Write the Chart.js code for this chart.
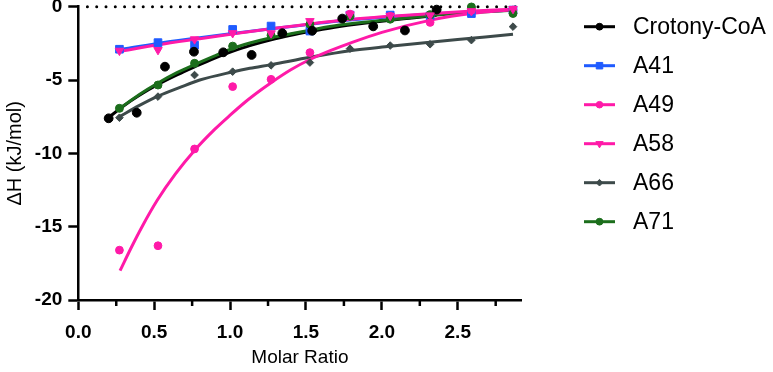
<!DOCTYPE html>
<html><head><meta charset="utf-8">
<script src="https://cdn.jsdelivr.net/npm/chart.js@4.4.1/dist/chart.umd.min.js"></script>
<style>html,body{margin:0;padding:0;background:#fff;overflow:hidden}#wrap{width:773px;height:372px;position:relative}</style>
</head><body><div id="wrap"><canvas id="c"></canvas></div>
<script>
// ---- data ----
const seriesNames = ['Crotony-CoA', 'A41', 'A49', 'A58', 'A66', 'A71'];
const xTickLabels = ['0.0', '0.5', '1.0', '1.5', '2.0', '2.5'];
const yTickLabels = ['-20', '-15', '-10', '-5', '0'];
const xMinorTicks = [0.25, 0.75, 1.25, 1.75, 2.25, 2.75];

// measured points
const xCrot = [0.20, 0.385, 0.571, 0.762, 0.955, 1.142, 1.344, 1.541, 1.739, 1.943, 2.152, 2.361];
const yCrot = [-7.61, -7.23, -4.09, -3.07, -3.11, -3.29, -1.81, -1.64, -0.81, -1.34, -1.62, -0.2];
const xTitr = [0.271, 0.525, 0.766, 1.017, 1.27, 1.526, 1.79, 2.055, 2.318, 2.59, 2.864];
const yA41 = [-2.90, -2.45, -2.62, -1.55, -1.32, -1.66, -0.57, -0.57, -0.62, -0.47, -0.23];
const yA49 = [-16.6, -16.3, -9.7, -5.45, -4.95, -3.13, -0.5, -0.65, -1.07, -0.25, -0.22];
const yA58 = [-3.0, -2.95, -2.22, -1.8, -1.81, -0.98, -0.52, -0.62, -0.59, -0.3, -0.15];
const yA66 = [-7.57, -6.13, -4.66, -4.43, -4.0, -3.81, -2.86, -2.65, -2.56, -2.28, -1.36];
const yA71 = [-6.93, -5.34, -3.86, -2.69, -1.95, -1.2, -0.65, -0.85, -0.55, -0.02, -0.46];

// fitted curves
const fitXCrot = [0.20, 0.30, 0.40, 0.525, 0.65, 0.766, 0.90, 1.015, 1.13, 1.27, 1.40, 1.526, 1.72, 2.06, 2.36];
const fitYCrot = [-7.55, -6.75, -6.05, -5.3, -4.65, -4.1, -3.5, -3.05, -2.65, -2.25, -1.95, -1.7, -1.35, -0.92, -0.6];
const fitXA41 = [0.271, 0.525, 0.80, 1.015, 1.27, 1.526, 1.72, 2.06, 2.33, 2.60, 2.864];
const fitYA41 = [-2.92, -2.5, -2.12, -1.83, -1.5, -1.2, -0.97, -0.68, -0.5, -0.35, -0.23];
const fitXA49 = [0.275, 0.35, 0.42, 0.52, 0.64, 0.77, 0.90, 1.00, 1.10, 1.20, 1.27, 1.40, 1.526, 1.66, 1.80, 2.00, 2.33, 2.60, 2.864];
const fitYA49 = [-18.0, -16.4, -15.0, -13.2, -11.4, -9.75, -8.35, -7.4, -6.5, -5.7, -5.18, -4.3, -3.6, -3.0, -2.45, -1.75, -0.9, -0.45, -0.2];
const fitXA58 = [0.271, 0.525, 0.80, 1.015, 1.27, 1.526, 1.72, 2.06, 2.33, 2.60, 2.864];
const fitYA58 = [-3.05, -2.6, -2.18, -1.86, -1.5, -1.18, -0.94, -0.65, -0.47, -0.3, -0.17];
const fitXA66 = [0.271, 0.40, 0.525, 0.67, 0.80, 1.015, 1.13, 1.27, 1.526, 1.79, 2.053, 2.316, 2.59, 2.864];
const fitYA66 = [-7.5, -6.75, -6.1, -5.5, -5.0, -4.45, -4.2, -3.95, -3.45, -3.0, -2.7, -2.42, -2.15, -1.88];
const fitXA71 = [0.271, 0.40, 0.525, 0.65, 0.766, 0.90, 1.015, 1.13, 1.27, 1.40, 1.526, 1.72, 2.06, 2.33, 2.60, 2.864];
const fitYA71 = [-6.95, -6.0, -5.2, -4.5, -3.95, -3.35, -2.85, -2.48, -2.12, -1.85, -1.6, -1.25, -0.88, -0.6, -0.4, -0.25];

// dotted zero reference line
const zeroLineX = [0.06, 2.92];
const zeroLineY = [0, 0];

// ---- styling ----
const FONT = "'Liberation Sans', Arial, Helvetica, sans-serif";
const colors = ['#000000', '#1f5bff', '#ff1aa8', '#ff1aa8', '#3d4a4a', '#1c6e1c'];
const styles = [
  {ps: 'circle', r: 4.4, rot: 0, lr: 3.4},
  {ps: 'rect', r: 5.4, rot: 0, lr: 4.6},
  {ps: 'circle', r: 3.9, rot: 0, lr: 3.3},
  {ps: 'triangle', r: 4.9, rot: 180, lr: 4.2},
  {ps: 'rectRot', r: 3.8, rot: 0, lr: 3.3},
  {ps: 'circle', r: 4.0, rot: 0, lr: 3.4}
];
const pointOrder = [1, 4, 3, 0, 5, 2];
const lineOrder = [13, 14, 11, 10, 15, 12];

const ptsX = [xCrot, xTitr, xTitr, xTitr, xTitr, xTitr];
const ptsY = [yCrot, yA41, yA49, yA58, yA66, yA71];
const fitX = [fitXCrot, fitXA41, fitXA49, fitXA58, fitXA66, fitXA71];
const fitY = [fitYCrot, fitYA41, fitYA49, fitYA58, fitYA66, fitYA71];

const zip = (xs, ys) => xs.map((x, i) => ({x: x, y: ys[i]}));

const datasets = [];
seriesNames.forEach((name, i) => {
  datasets.push({
    label: name + ' fit', type: 'line', data: zip(fitX[i], fitY[i]),
    borderColor: colors[i], borderWidth: 3, pointRadius: 0, pointHoverRadius: 0,
    cubicInterpolationMode: 'monotone', fill: false, order: lineOrder[i], clip: false
  });
  datasets.push({
    label: name, type: 'line', data: zip(ptsX[i], ptsY[i]), showLine: false,
    pointStyle: styles[i].ps, pointRadius: styles[i].r, pointRotation: styles[i].rot,
    pointBackgroundColor: colors[i], pointBorderColor: colors[i], pointBorderWidth: 1,
    borderColor: colors[i], backgroundColor: colors[i], order: pointOrder[i], clip: false
  });
});
datasets.push({
  label: 'zero', type: 'line', data: zip(zeroLineX, zeroLineY),
  borderColor: '#000', borderWidth: 3, borderDash: [0, 9.3], borderCapStyle: 'round',
  pointRadius: 0, order: 30, clip: false
});

function drawMarker(ctx, style, color, x, y, r) {
  ctx.save();
  ctx.fillStyle = color; ctx.strokeStyle = color; ctx.lineWidth = 1;
  ctx.beginPath();
  if (style === 'circle') {
    ctx.arc(x, y, r, 0, Math.PI * 2);
  } else if (style === 'rect') {
    const s = r * Math.SQRT1_2;
    ctx.rect(x - s, y - s, 2 * s, 2 * s);
  } else if (style === 'triangle') {
    ctx.moveTo(x, y + r);
    ctx.lineTo(x - r * 0.866, y - r * 0.5);
    ctx.lineTo(x + r * 0.866, y - r * 0.5);
    ctx.closePath();
  } else if (style === 'rectRot') {
    ctx.moveTo(x, y - r); ctx.lineTo(x + r, y); ctx.lineTo(x, y + r); ctx.lineTo(x - r, y); ctx.closePath();
  }
  ctx.fill(); ctx.stroke();
  ctx.restore();
}

const extras = {
  id: 'extras',
  afterDraw(chart) {
    const ctx = chart.ctx;
    const xs = chart.scales.x;
    // minor ticks on x axis
    ctx.save();
    ctx.strokeStyle = '#000'; ctx.lineWidth = 2.5;
    xMinorTicks.forEach(v => {
      const px = xs.getPixelForValue(v);
      ctx.beginPath(); ctx.moveTo(px, xs.top); ctx.lineTo(px, xs.top + 6); ctx.stroke();
    });
    ctx.restore();
    // legend
    const lx0 = 584, lx1 = 615, tx = 633, y0 = 26.7, dy = 39;
    ctx.save();
    ctx.font = '23px ' + FONT;
    ctx.textBaseline = 'middle';
    ctx.textAlign = 'left';
    seriesNames.forEach((name, i) => {
      const y = y0 + dy * i;
      ctx.strokeStyle = colors[i]; ctx.lineWidth = 3; ctx.lineCap = 'butt';
      ctx.beginPath(); ctx.moveTo(lx0, y); ctx.lineTo(lx1, y); ctx.stroke();
      drawMarker(ctx, styles[i].ps, colors[i], (lx0 + lx1) / 2, y, styles[i].lr);
      ctx.fillStyle = '#000';
      ctx.fillText(name, tx, y + 1);
    });
    ctx.restore();
  }
};

Chart.defaults.font.family = FONT;
Chart.defaults.color = '#000';

new Chart(document.getElementById('c'), {
  type: 'line',
  data: {datasets: datasets},
  options: {
    responsive: true, maintainAspectRatio: false, animation: false, devicePixelRatio: 1,
    layout: {padding: {top: 6.7, right: 251.5, bottom: 0, left: 0}},
    plugins: {legend: {display: false}, tooltip: {enabled: false}},
    events: [],
    scales: {
      x: {
        type: 'linear', position: 'bottom', min: 0, max: 2.92,
        ticks: {stepSize: 0.5, includeBounds: false, autoSkip: false, maxRotation: 0, minRotation: 0,
          padding: 11, color: '#000', font: {size: 19, weight: 'bold', family: FONT},
          callback: (v) => { const k = Math.round(v / 0.5); return (Math.abs(v - k * 0.5) < 1e-6) ? xTickLabels[k] : ''; }},
        grid: {display: true, drawOnChartArea: false, drawTicks: true, tickLength: 10, tickWidth: 2.5, tickColor: '#000'},
        border: {display: true, color: '#000', width: 2.5},
        title: {display: true, text: 'Molar Ratio', color: '#000', font: {size: 19, family: FONT}, padding: {top: 4, bottom: 3}},
        afterFit: (s) => { s.height = 72; }
      },
      y: {
        type: 'linear', position: 'left', min: -20, max: 0,
        ticks: {stepSize: 5, padding: 6, color: '#000', font: {size: 19, weight: 'bold', family: FONT},
          callback: (v) => yTickLabels[Math.round((v + 20) / 5)]},
        grid: {display: true, drawOnChartArea: false, drawTicks: true, tickLength: 10, tickWidth: 2.5, tickColor: '#000'},
        border: {display: true, color: '#000', width: 2.5},
        title: {display: true, text: 'ΔH (kJ/mol)', color: '#000', font: {size: 20, family: FONT}, padding: {top: 3, bottom: 4}},
        afterFit: (s) => { s.width = 78.3; s.paddingTop = 0; s.paddingBottom = 0; }
      }
    }
  },
  plugins: [extras]
});
</script>
</body></html>
